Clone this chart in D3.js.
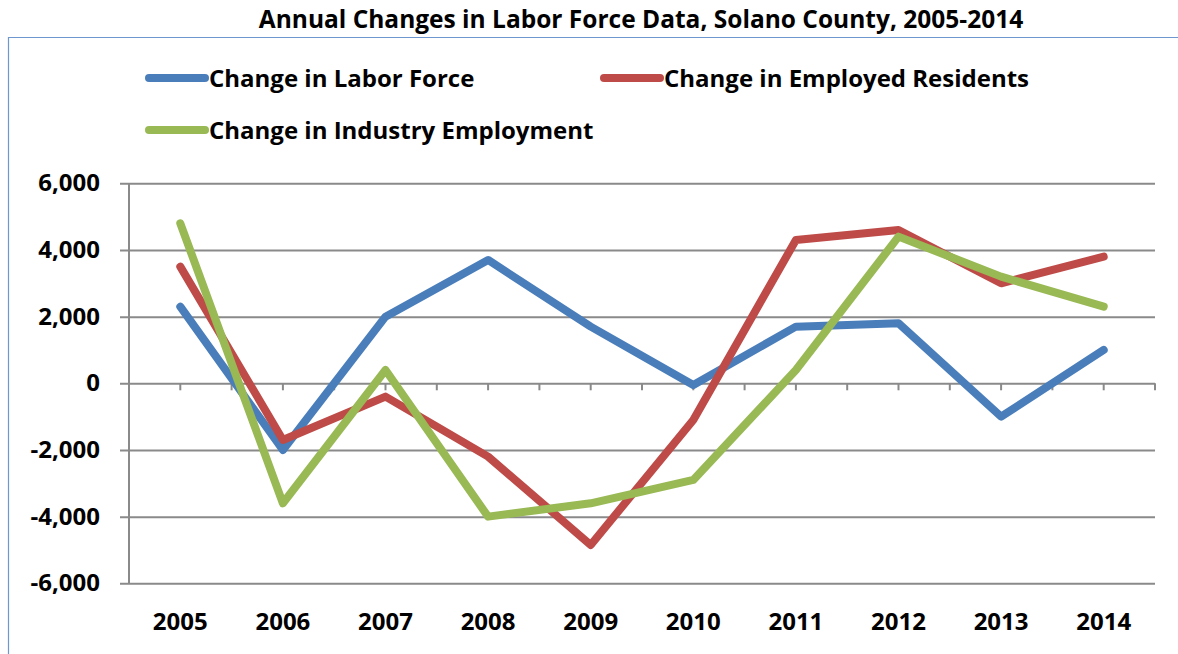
<!DOCTYPE html>
<html>
<head>
<meta charset="utf-8">
<script src="https://cdn.jsdelivr.net/npm/d3@7"></script>
<style>
  body { margin: 0; background: #fff; }
  text { font-family: "Open Sans", Lato, sans-serif; font-weight: bold; fill: #000; }
</style>
</head>
<body>
<div id="chart"></div>
<script>
// data
var years = ["2005","2006","2007","2008","2009","2010","2011","2012","2013","2014"];
var laborForce = [2300, -2000, 2000, 3700, 1700, -50, 1700, 1800, -1000, 1000];
var employedResidents = [3500, -1700, -400, -2200, -4850, -1100, 4300, 4600, 3000, 3800];
var industryEmployment = [4800, -3600, 400, -4000, -3600, -2900, 400, 4400, 3200, 2300];
var yTicks = [-6000, -4000, -2000, 0, 2000, 4000, 6000];

var seriesNames = ["Change in Labor Force", "Change in Employed Residents", "Change in Industry Employment"];
var seriesColors = ["#4a7ebb", "#be4b48", "#98b954"];

var svgWidth = 1178;
var svgHeight = 654;

var margin = { top: 183.3, right: 23, bottom: 70.7, left: 129 };
var width = svgWidth - margin.left - margin.right;
var height = svgHeight - margin.top - margin.bottom;

var svg = d3.select("#chart")
    .append("svg")
    .attr("width", svgWidth)
    .attr("height", svgHeight);

// outer frame (only top and left edges show)
svg.append("path")
    .attr("d", "M8.5,654 V37.5 H1178")
    .attr("fill", "none")
    .attr("stroke", "#6f97cf")
    .attr("stroke-width", 1.2);

// title
svg.append("text")
    .attr("x", 641)
    .attr("y", 28)
    .attr("text-anchor", "middle")
    .style("font-size", "24.5px")
    .text("Annual Changes in Labor Force Data, Solano County, 2005-2014");

var chartgroup = svg.append("g")
    .attr("transform", `translate(${margin.left},${margin.top})`);

// scales
var xScale = d3.scaleBand()
    .domain(years)
    .range([0, width]);
var half = xScale.bandwidth() / 2;

var yScale = d3.scaleLinear()
    .domain([-6000, 6000])
    .range([height, 0]);

// horizontal gridlines + y labels (plain hyphen for negatives, like excel)
var fmt = d3.format(",");
var leftAxis = d3.axisLeft(yScale)
    .tickValues(yTicks)
    .tickSize(-width - 9)
    .tickFormat(d => fmt(d).replace("\u2212", "-"));

var yAxis = chartgroup.append("g")
    .attr("transform", "translate(-9,0)")
    .call(leftAxis);
yAxis.select(".domain").remove();
yAxis.selectAll("line")
    .attr("stroke", "#8a8a8a")
    .attr("stroke-width", 2);
yAxis.selectAll("text")
    .attr("x", -20)
    .style("font-size", "24px");

// vertical axis line
chartgroup.append("line")
    .attr("x1", 0).attr("x2", 0)
    .attr("y1", 0).attr("y2", height)
    .attr("stroke", "#8a8a8a")
    .attr("stroke-width", 2);

// category axis crosses at zero, ticks every half category
var tickPos = d3.range(1, years.length * 2 + 1).map(i => i * half);
chartgroup.selectAll(".ztick")
    .data(tickPos)
    .enter()
    .append("line")
    .attr("class", "ztick")
    .attr("x1", d => d).attr("x2", d => d)
    .attr("y1", yScale(0)).attr("y2", yScale(0) + 7)
    .attr("stroke", "#8a8a8a")
    .attr("stroke-width", 2);

// x labels at the bottom
chartgroup.selectAll(".xlabel")
    .data(years)
    .enter()
    .append("text")
    .attr("class", "xlabel")
    .attr("x", d => xScale(d) + half)
    .attr("y", 630 - margin.top)
    .attr("text-anchor", "middle")
    .style("font-size", "24px")
    .text(d => d);

// lines
var allSeries = [laborForce, employedResidents, industryEmployment];
var line = d3.line()
    .x((d, i) => xScale(years[i]) + half)
    .y(d => yScale(d));

// draw in excel order: blue, red, green on top
chartgroup.selectAll(".series")
    .data(allSeries)
    .enter()
    .append("path")
    .attr("class", "series")
    .attr("d", d => line(d))
    .attr("fill", "none")
    .attr("stroke", (d, i) => seriesColors[i])
    .attr("stroke-width", 8)
    .attr("stroke-linejoin", "round")
    .attr("stroke-linecap", "round");

// legend
var legendPos = [[149, 78], [604, 78], [149, 130]];
var legend = svg.selectAll(".legend")
    .data(seriesNames)
    .enter()
    .append("g")
    .attr("class", "legend")
    .attr("transform", (d, i) => `translate(${legendPos[i][0]},${legendPos[i][1]})`);

legend.append("line")
    .attr("x1", 0).attr("x2", 56)
    .attr("y1", 0).attr("y2", 0)
    .attr("stroke", (d, i) => seriesColors[i])
    .attr("stroke-width", 8)
    .attr("stroke-linecap", "round");

legend.append("text")
    .attr("x", 60)
    .attr("y", 9)
    .style("font-size", "24px")
    .text(d => d);
</script>
</body>
</html>
